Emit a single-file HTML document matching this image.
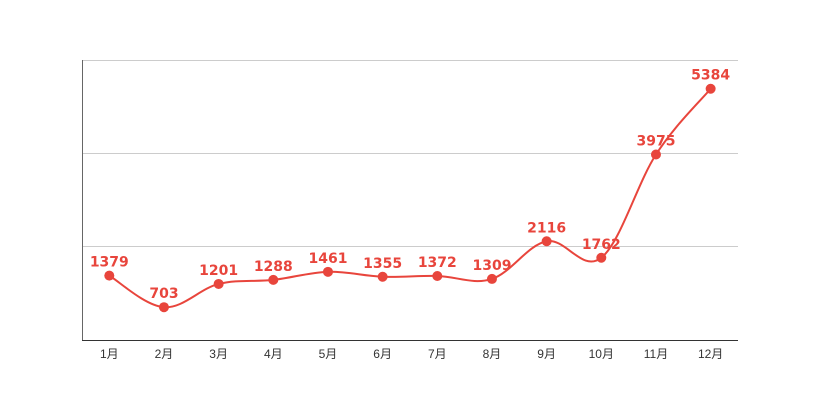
<!DOCTYPE html>
<html><head><meta charset="utf-8"><style>
html,body{margin:0;padding:0;background:#fff;}
svg{display:block;font-family:"Liberation Sans","Noto Sans CJK SC",sans-serif;}
</style></head><body>
<svg id="s" width="820" height="400" xmlns="http://www.w3.org/2000/svg">
<line x1="82" y1="60.5" x2="738" y2="60.5" stroke="#ccc"/>
<line x1="82" y1="153.5" x2="738" y2="153.5" stroke="#ccc"/>
<line x1="82" y1="246.5" x2="738" y2="246.5" stroke="#ccc"/>
<line x1="82.5" y1="60" x2="82.5" y2="340" stroke="#666"/>
<line x1="82" y1="340.5" x2="738" y2="340.5" stroke="#333"/>
<g id="g"></g>
</svg>
<script>
var v=[1379,703,1201,1288,1461,1355,1372,1309,2116,1762,3975,5384];
var P=v.map(function(d,i){return [109.3+54.667*i,340-d*280/6000];});
var g=document.getElementById('g');
var d="M"+P[0][0]+","+P[0][1],t=0.35;
for(var i=0;i<P.length-1;i++){
 var p0=P[Math.max(i-1,0)],p1=P[i],p2=P[i+1],p3=P[Math.min(i+2,P.length-1)];
 var c1=[p1[0]+(p2[0]-p0[0])*t/2,p1[1]+(p2[1]-p0[1])*t/2];
 var c2=[p2[0]-(p3[0]-p1[0])*t/2,p2[1]-(p3[1]-p1[1])*t/2];
 d+=" C"+c1+" "+c2+" "+p2;
}
var h='<path d="'+d+'" fill="none" stroke="#e8453c" stroke-width="2"/>';
P.forEach(function(p,i){
 h+='<circle cx="'+p[0]+'" cy="'+p[1]+'" r="5" fill="#e8453c"/>';
 h+='<text x="'+p[0]+'" y="'+(p[1]-9)+'" text-anchor="middle" font-size="14" font-weight="bold" fill="#e8453c" font-family="DejaVu Sans, sans-serif">'+v[i]+'</text>';
 h+='<text x="'+p[0]+'" y="358" text-anchor="middle" font-size="12" fill="#333">'+(i+1)+'月</text>';
});
g.innerHTML=h;
</script>
</body></html>
